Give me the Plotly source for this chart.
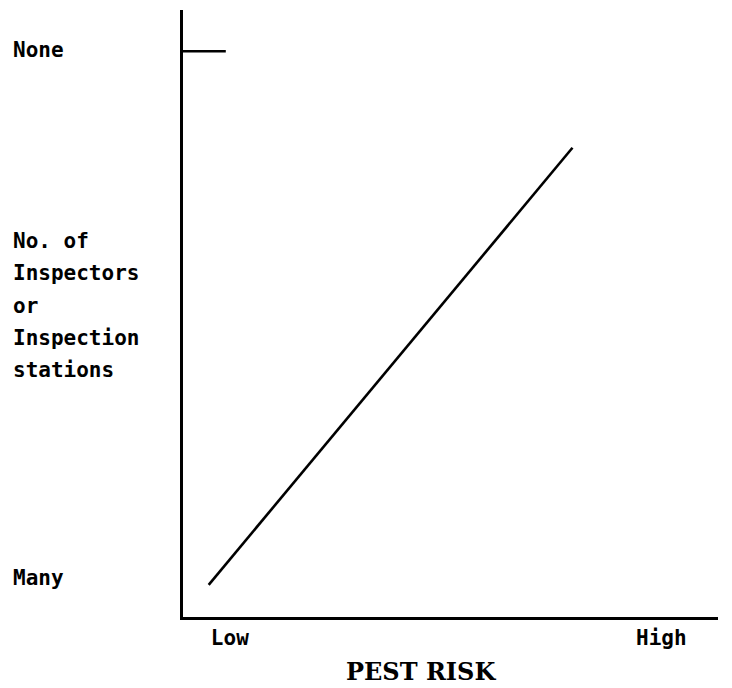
import plotly.graph_objects as go

# Data (schematic relationship)
risk_x = [4.8, 72.8]          # pest risk (0-100 scale)
inspect_y = [5.3, 77.3]       # inspector level (0 = many, 100 = none)
none_tick_x = [0, 8.0]
none_level = 93.2
x_tick_vals = [8.75, 89.4]
x_tick_text = ["Low", "High"]
y_top_label = "None"
y_bottom_label = "Many"
y_mid_lines = ["No. of", "Inspectors", "or", "Inspection", "stations"]
x_title = "PEST RISK"

W, H = 732, 688
L, R, T, B = 183, 14, 10, 71
pw, ph = W - L - R, H - T - B

def px_to_paper_x(px):
    return (px - L) / pw

def px_to_paper_y(py):
    return (H - B - py) / ph

label_font = dict(family="DejaVu Sans Mono", size=21, color="black")

fig = go.Figure()
fig.add_trace(go.Scatter(x=risk_x, y=inspect_y, mode="lines",
                         line=dict(color="black", width=2.6), showlegend=False,
                         hoverinfo="skip"))
fig.add_trace(go.Scatter(x=none_tick_x, y=[none_level, none_level], mode="lines",
                         line=dict(color="black", width=2.6), showlegend=False,
                         hoverinfo="skip"))

annotations = []
def lab(text, py):
    annotations.append(dict(text="<b>" + text + "</b>", xref="paper", yref="paper",
                            x=px_to_paper_x(11), y=px_to_paper_y(py),
                            xanchor="left", yanchor="middle", showarrow=False,
                            align="left", font=label_font))

lab(y_top_label, 50)
for i, t in enumerate(y_mid_lines):
    lab(t, 241 + i * 32.3)
lab(y_bottom_label, 578)

annotations.append(dict(text="<b>" + x_title + "</b>", xref="paper", yref="paper",
                        x=px_to_paper_x(421), y=px_to_paper_y(671),
                        xanchor="center", yanchor="middle", showarrow=False,
                        font=dict(family="DejaVu Serif", size=24, color="black")))

fig.update_layout(
    width=W, height=H,
    margin=dict(l=L, r=R, t=T, b=B),
    paper_bgcolor="white", plot_bgcolor="white",
    annotations=annotations,
    xaxis=dict(range=[0, 100], showgrid=False, zeroline=False, showline=True,
               linecolor="black", linewidth=2.6, tickvals=x_tick_vals,
               ticktext=["<b>" + t + "</b>" for t in x_tick_text], ticks="",
               tickfont=label_font, fixedrange=True, ticklabelstandoff=0),
    yaxis=dict(range=[0, 100], showgrid=False, zeroline=False, showline=True,
               linecolor="black", linewidth=2.6, showticklabels=False, ticks="",
               fixedrange=True),
)

fig.write_html("out.html", config={"displayModeBar": False},
               post_script="document.body.style.margin='0';document.body.style.overflow='hidden';")
